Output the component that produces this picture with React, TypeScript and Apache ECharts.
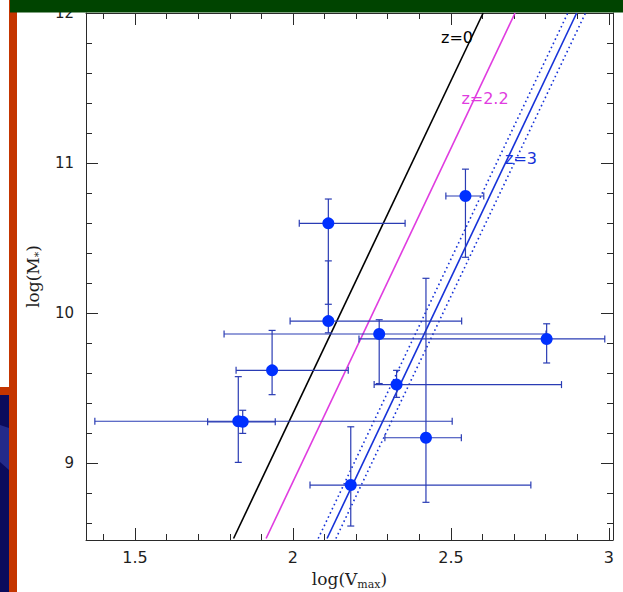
import React, { useEffect, useRef } from 'react';
import * as echarts from 'echarts';

// Galaxy measurements: log(Vmax), log(M*) with error-bar limits
const logV = [2.112, 2.112, 2.273, 1.934, 1.827, 1.841, 2.328, 2.421, 2.183, 2.546, 2.803];
const logM = [10.599, 9.948, 9.862, 9.62, 9.281, 9.277, 9.525, 9.171, 8.856, 10.781, 9.829];
const logVLo = [2.02, 1.991, 1.782, 1.82, 1.373, 1.73, 2.257, 2.291, 2.054, 2.484, 2.209];
const logVHi = [2.355, 2.534, 2.801, 2.175, 2.504, 1.944, 2.85, 2.533, 2.753, 2.604, 2.987];
const logMLo = [10.06, 9.87, 9.532, 9.458, 9.007, 9.2, 9.44, 8.741, 8.583, 10.373, 9.669];
const logMHi = [10.761, 10.349, 9.957, 9.886, 9.578, 9.354, 9.62, 10.233, 9.244, 10.96, 9.93];

// Model relations (endpoints at log M = 8.5 and 12)
const lineM = [8.5, 12];
const z0V = [1.812, 2.602];
const z22V = [1.915, 2.703];
const z3V = [2.108, 2.898];
const z3LoV = [2.08, 2.87];
const z3HiV = [2.136, 2.926];

// Axis ticks
const xMajor = [1.5, 2, 2.5, 3];
const xMinor = [1.4, 1.6, 1.7, 1.8, 1.9, 2.1, 2.2, 2.3, 2.4, 2.6, 2.7, 2.8, 2.9];
const yMajor = [9, 10, 11, 12];
const yMinor = [8.6, 8.8, 9.2, 9.4, 9.6, 9.8, 10.2, 10.4, 10.6, 10.8, 11.2, 11.4, 11.6, 11.8];

const X_MIN = 1.345, X_MAX = 3.013, Y_MIN = 8.49, Y_MAX = 12;

const axisColor = '#2a2a2a';
const labelFont = { fontFamily: 'DejaVu Sans', fontSize: 15, color: '#1e1e1e' };

function xAxisDef(position: string, ticks: number[], len: number, showLine: boolean, labels: boolean, extra: any = {}) {
  return {
    type: 'value', position, min: X_MIN, max: X_MAX,
    axisLine: { show: showLine, onZero: false, lineStyle: { color: axisColor, width: 1 } },
    axisTick: { show: true, inside: true, length: len, customValues: ticks, lineStyle: { color: axisColor, width: 1 } },
    axisLabel: labels ? { show: true, customValues: ticks, margin: 9, ...labelFont, fontSize: 16 } : { show: false },
    splitLine: { show: false },
    ...extra,
  };
}
function yAxisDef(position: string, ticks: number[], len: number, showLine: boolean, labels: boolean, extra: any = {}) {
  return {
    type: 'value', position, min: Y_MIN, max: Y_MAX,
    axisLine: { show: showLine, onZero: false, lineStyle: { color: axisColor, width: 1 } },
    axisTick: { show: true, inside: true, length: len, customValues: ticks, lineStyle: { color: axisColor, width: 1 } },
    axisLabel: labels ? { show: true, customValues: ticks, margin: 12, ...labelFont } : { show: false },
    splitLine: { show: false },
    ...extra,
  };
}

export default function App() {
  const ref = useRef<HTMLDivElement>(null);
  useEffect(() => {
    const chart = echarts.init(ref.current!, null, { renderer: 'svg' });
    const pts = logV.map((v, i) => [v, logM[i], logVLo[i], logVHi[i], logMLo[i], logMHi[i]]);
    const mkLine = (xs: number[]) => xs.map((x, i) => [x, lineM[i]]);
    const errColor = '#2a3cb4';
    const titleRich = {
      a: { fontFamily: 'DejaVu Serif', fontSize: 17, color: '#1e1e1e', lineHeight: 22 },
      b: { fontFamily: 'DejaVu Serif', fontSize: 11, color: '#1e1e1e', lineHeight: 11, verticalAlign: 'bottom' },
    };
    const option: any = {
      animation: false,
      backgroundColor: '#ffffff',
      grid: { left: 86, right: 10, top: 13, bottom: 52, containLabel: false, outerBoundsMode: 'none' },
      xAxis: [
        xAxisDef('bottom', xMajor, 12, true, true, {
          name: '{a|log(V}{b|max}{a|)}', nameLocation: 'middle', nameGap: 28,
          nameTextStyle: { rich: titleRich },
        }),
        xAxisDef('bottom', xMinor, 6, false, false),
        xAxisDef('top', xMajor, 12, true, false),
        xAxisDef('top', xMinor, 6, false, false),
      ],
      yAxis: [
        yAxisDef('left', yMajor, 12, true, true, {
          name: '{a|log(M}{b|*}{a|)}', nameLocation: 'middle', nameGap: 42, nameRotate: 90,
          nameTextStyle: { rich: titleRich },
        }),
        yAxisDef('left', yMinor, 6, false, false),
        yAxisDef('right', yMajor, 12, true, false),
        yAxisDef('right', yMinor, 6, false, false),
      ],
      series: [
        { type: 'line', data: mkLine(z0V), symbol: 'none', silent: true, lineStyle: { color: '#000000', width: 1.6 }, z: 3 },
        { type: 'line', data: mkLine(z22V), symbol: 'none', silent: true, lineStyle: { color: '#e03ce0', width: 1.6 }, z: 3 },
        { type: 'line', data: mkLine(z3V), symbol: 'none', silent: true, lineStyle: { color: '#1632d8', width: 1.6 }, z: 3 },
        { type: 'line', data: mkLine(z3LoV), symbol: 'none', silent: true, lineStyle: { color: '#1632d8', width: 1.6, type: [1.6, 3] }, z: 3 },
        { type: 'line', data: mkLine(z3HiV), symbol: 'none', silent: true, lineStyle: { color: '#1632d8', width: 1.6, type: [1.6, 3] }, z: 3 },
        {
          type: 'custom', data: pts, silent: true, z: 4,
          renderItem: (_p: any, api: any) => {
            const x = api.value(0), y = api.value(1);
            const L = api.coord([api.value(2), y]);
            const R = api.coord([api.value(3), y]);
            const B = api.coord([x, api.value(4)]);
            const T = api.coord([x, api.value(5)]);
            const c = 3.5;
            const style = { stroke: errColor, lineWidth: 1.2, fill: null };
            const seg = (x1: number, y1: number, x2: number, y2: number) => ({ type: 'line', shape: { x1, y1, x2, y2 }, style });
            return {
              type: 'group',
              children: [
                seg(L[0], L[1], R[0], R[1]),
                seg(L[0], L[1] - c, L[0], L[1] + c),
                seg(R[0], R[1] - c, R[0], R[1] + c),
                seg(B[0], B[1], T[0], T[1]),
                seg(B[0] - c, B[1], B[0] + c, B[1]),
                seg(T[0] - c, T[1], T[0] + c, T[1]),
              ],
            };
          },
        },
        {
          type: 'scatter', data: logV.map((v, i) => [v, logM[i]]), symbol: 'circle', symbolSize: 12, silent: true, z: 5,
          itemStyle: { color: '#0030ff', opacity: 1 },
        },
      ],
      graphic: [
        { type: 'text', x: 457, y: 37, z: 50, style: { text: 'z=0', fill: '#000000', font: '16px "DejaVu Sans"', align: 'center', verticalAlign: 'middle' } },
        { type: 'text', x: 485, y: 98, z: 50, style: { text: 'z=2.2', fill: '#e03ce0', font: '16px "DejaVu Sans"', align: 'center', verticalAlign: 'middle' } },
        { type: 'text', x: 521, y: 158, z: 50, style: { text: 'z=3', fill: '#1632d8', font: '16px "DejaVu Sans"', align: 'center', verticalAlign: 'middle' } },
        { type: 'rect', z: 100, shape: { x: 9, y: 0, width: 8, height: 592 }, style: { fill: '#c43500' } },
        { type: 'rect', z: 100, shape: { x: 0, y: 387, width: 9, height: 8 }, style: { fill: '#c43500' } },
        { type: 'rect', z: 100, shape: { x: 0, y: 395, width: 9, height: 197 }, style: { fill: '#0b0b5c' } },
        { type: 'polygon', z: 101, shape: { points: [[0, 425], [9, 428], [9, 470], [0, 462]] }, style: { fill: '#232a8a' } },
        { type: 'rect', z: 102, shape: { x: 10, y: 0, width: 613, height: 12.5 }, style: { fill: '#004400' } },
      ],
    };
    chart.setOption(option);
    return () => chart.dispose();
  }, []);
  return <div ref={ref} style={{ position: 'absolute', left: 0, top: 0, width: 623, height: 592, background: '#ffffff' }} />;
}
